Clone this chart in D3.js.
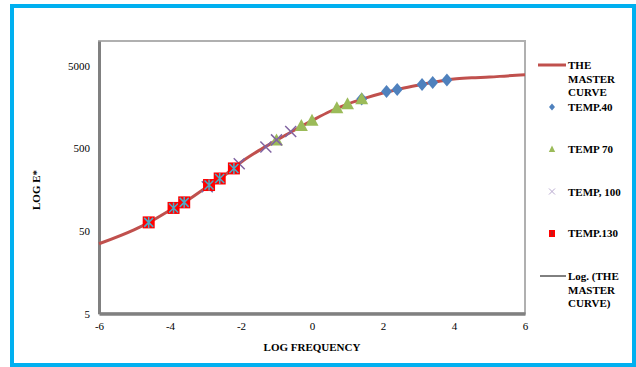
<!DOCTYPE html>
<html>
<head>
<meta charset="utf-8">
<script src="https://cdn.jsdelivr.net/npm/d3@7"></script>
<style>
  body { margin: 0; background: #fff; }
  svg text { font-family: "Liberation Serif", "Times New Roman", serif; }
</style>
</head>
<body>
<script>
// master curve (log frequency -> E*)
var curveX = [-6, -5, -4.6, -4, -3.6, -3, -2.5, -2, -1.5, -1, -0.5, 0, 0.5, 1, 1.5, 2, 2.5, 3, 3.5, 4, 4.5, 5, 5.5, 6];
var curveY = [35, 52, 63, 89, 111, 166, 230, 340, 470, 625, 830, 1085, 1400, 1720, 2030, 2340, 2640, 2920, 3200, 3470, 3580, 3660, 3780, 3890];

var temp40X = [1.4, 2.1, 2.4, 3.1, 3.4, 3.8];
var temp40Y = [1990, 2440, 2590, 2980, 3140, 3360];

var temp70X = [-1.0, -0.3, 0, 0.7, 1.0, 1.4];
var temp70Y = [625, 935, 1085, 1530, 1715, 1975];

var temp100X = [-2.95, -2.05, -1.3, -1.0, -0.6];
var temp100Y = [172, 325, 520, 634, 800];

var temp130X = [-4.6, -3.9, -3.6, -2.9, -2.6, -2.2];
var temp130Y = [63.5, 95, 111, 180, 216, 286];

var xTicks = [-6, -4, -2, 0, 2, 4, 6];
var yTicks = [5, 50, 500, 5000];

var serif = "'Liberation Serif', 'Times New Roman', serif";
var width = 636, height = 367;
var svg = d3.select("body").append("svg")
    .attr("width", width)
    .attr("height", height)
    .attr("font-family", serif);

// outer cyan frame
svg.append("rect")
    .attr("x", 12).attr("y", 6)
    .attr("width", 622).attr("height", 359)
    .attr("fill", "#fff")
    .attr("stroke", "#00b0f0")
    .attr("stroke-width", 4);

var x = d3.scaleLinear().domain([-6, 6]).range([99, 525]);
var y = d3.scaleLog().domain([5, 10000]).range([313.5, 41]);

// plot frame
svg.append("rect")
    .attr("x", x(-6)).attr("y", y(10000))
    .attr("width", x(6) - x(-6)).attr("height", y(5) - y(10000))
    .attr("fill", "none")
    .attr("stroke", "#b0b0b0")
    .attr("stroke-width", 2);

var xAxis = svg.append("g")
    .attr("transform", "translate(0," + y(5) + ")")
    .call(d3.axisBottom(x).tickValues(xTicks).tickSize(0).tickPadding(9).tickFormat(String));
xAxis.attr("font-family", serif);
xAxis.select(".domain").attr("stroke", "#808080").attr("stroke-width", 3.5);
xAxis.selectAll("text").attr("font-size", 11).attr("fill", "#000");

var yAxis = svg.append("g")
    .attr("transform", "translate(" + x(-6) + ",0)")
    .call(d3.axisLeft(y).tickValues(yTicks).tickSize(0).tickPadding(9).tickFormat(String));
yAxis.attr("font-family", serif);
yAxis.select(".domain").attr("stroke", "#808080").attr("stroke-width", 3);
yAxis.selectAll("text").attr("font-size", 11).attr("fill", "#000");

svg.append("text")
    .attr("x", 312).attr("y", 351)
    .attr("text-anchor", "middle")
    .attr("font-size", 11).attr("font-weight", "bold")
    .text("LOG FREQUENCY");

svg.append("text")
    .attr("transform", "translate(40,190) rotate(-90)")
    .attr("text-anchor", "middle")
    .attr("font-size", 11).attr("font-weight", "bold")
    .text("LOG E*");

// master curve
var curveData = curveX.map(function(d, i) { return [d, curveY[i]]; });
var line = d3.line()
    .x(function(d) { return x(d[0]); })
    .y(function(d) { return y(d[1]); })
    .curve(d3.curveMonotoneX);
svg.append("path")
    .datum(curveData)
    .attr("d", line)
    .attr("fill", "none")
    .attr("stroke", "#c0504d")
    .attr("stroke-width", 3);

function pts(xs, ys) { return xs.map(function(d, i) { return [d, ys[i]]; }); }

// TEMP.40 diamonds
svg.append("g").selectAll("path")
    .data(pts(temp40X, temp40Y)).enter()
    .append("path")
    .attr("transform", function(d) { return "translate(" + x(d[0]) + "," + y(d[1]) + ")"; })
    .attr("d", "M0,-6.5L5.5,0L0,6.5L-5.5,0Z")
    .attr("fill", "#4f81bd");

// TEMP 70 triangles
svg.append("g").selectAll("path")
    .data(pts(temp70X, temp70Y)).enter()
    .append("path")
    .attr("transform", function(d) { return "translate(" + x(d[0]) + "," + y(d[1]) + ")"; })
    .attr("d", "M0,-7L6.5,5L-6.5,5Z")
    .attr("fill", "#9bbb59");

// TEMP, 100 crosses
svg.append("g").selectAll("path")
    .data(pts(temp100X, temp100Y)).enter()
    .append("path")
    .attr("transform", function(d) { return "translate(" + x(d[0]) + "," + y(d[1]) + ")"; })
    .attr("d", "M-5.5,-5.5L5.5,5.5M-5.5,5.5L5.5,-5.5")
    .attr("stroke", "#8064a2")
    .attr("stroke-width", 1.5);

// TEMP.130 red squares with star
var sq = svg.append("g").selectAll("g")
    .data(pts(temp130X, temp130Y)).enter()
    .append("g")
    .attr("transform", function(d) { return "translate(" + x(d[0]) + "," + y(d[1]) + ")"; });
sq.append("rect")
    .attr("x", -6).attr("y", -6).attr("width", 12).attr("height", 12)
    .attr("fill", "#ff0000");
sq.append("path")
    .attr("d", "M-4.5,-4.5L4.5,4.5M-4.5,4.5L4.5,-4.5M0,-5.5L0,5.5")
    .attr("stroke", "#4bacc6")
    .attr("stroke-width", 1.5);

// legend
var lg = svg.append("g").attr("font-size", 11).attr("font-weight", "bold");
function label(lines, ty) {
    var t = lg.append("text").attr("x", 568).attr("y", ty);
    lines.forEach(function(s, i) {
        t.append("tspan").attr("x", 568).attr("dy", i ? 13.5 : 0).text(s);
    });
}
lg.append("line").attr("x1", 538).attr("x2", 566).attr("y1", 65).attr("y2", 65)
    .attr("stroke", "#c0504d").attr("stroke-width", 3);
label(["THE", "MASTER", "CURVE"], 69);

lg.append("path").attr("transform", "translate(552,107)")
    .attr("d", "M0,-3.5L3,0L0,3.5L-3,0Z").attr("fill", "#4f81bd");
label(["TEMP.40"], 111);

lg.append("path").attr("transform", "translate(552,149)")
    .attr("d", "M0,-3.5L3.2,3L-3.2,3Z").attr("fill", "#9bbb59");
label(["TEMP 70"], 153);

lg.append("path").attr("transform", "translate(552,191.5)")
    .attr("d", "M-3,-3L3,3M-3,3L3,-3").attr("stroke", "#b8a9cf").attr("stroke-width", 1);
label(["TEMP, 100"], 195.5);

lg.append("rect").attr("x", 549).attr("y", 230).attr("width", 6).attr("height", 7).attr("fill", "#ff0000");
lg.append("path").attr("d", "M552,231L552,236").attr("stroke", "#8a3030").attr("stroke-width", 1);
label(["TEMP.130"], 237);

lg.append("line").attr("x1", 540).attr("x2", 566).attr("y1", 276).attr("y2", 276)
    .attr("stroke", "#000").attr("stroke-width", 1);
label(["Log. (THE", "MASTER", "CURVE)"], 280);
</script>
</body>
</html>
